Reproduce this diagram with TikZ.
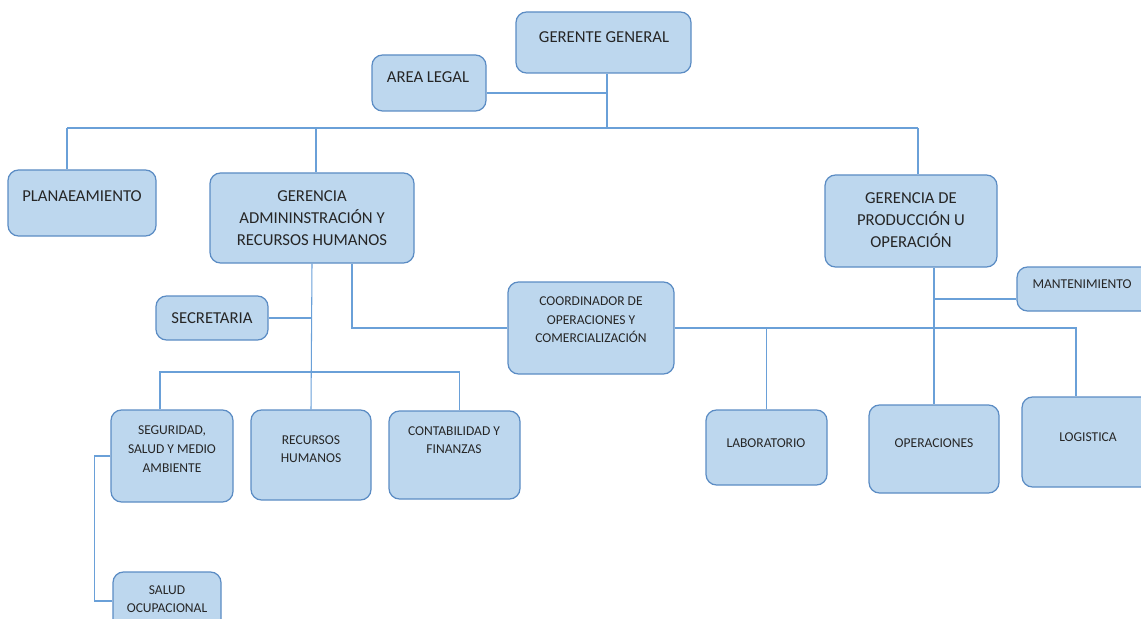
\documentclass[tikz,border=0pt]{standalone}
\usepackage{fontspec}
\setmainfont{Carlito}
\usetikzlibrary{fit}
\definecolor{boxfill}{HTML}{BDD7EE}
\definecolor{boxline}{HTML}{5B8CC4}
\definecolor{linkblue}{HTML}{6AA0D8}
\definecolor{txtgray}{HTML}{262626}
\tikzset{
    box/.style={draw=boxline, fill=boxfill, line width=0.7pt, rounded corners=6pt, inner sep=0pt},
    link/.style={draw=linkblue, line width=0.6pt},
    bigtxt/.style={text=txtgray, align=center, font=\fontsize{9.5}{12.7}\selectfont},
    smalltxt/.style={text=txtgray, align=center, font=\fontsize{7.7}{10.6}\selectfont}
}
\begin{document}
\begin{tikzpicture}[x=0.02cm, y=-0.02cm]
    \useasboundingbox (0,0) rectangle (1141,618);
    \clip (0,0) rectangle (1141,618);

    \node[box, fit={(516,12) (691,73)}] (gg) {};
    \node[bigtxt] (ggt) at (604,37) {GERENTE GENERAL};
    \node[box, fit={(372,55) (486,111)}] (al) {};
    \node[bigtxt] (alt) at (428,77) {AREA LEGAL};

    \node[box, fit={(8,170) (156,236)}] (plan) {};
    \node[bigtxt] (plant) at (82,196) {PLANAEAMIENTO};
    \node[box, fit={(210,173) (414,263)}] (ga) {};
    \node[bigtxt] (gat) at (312,218) {GERENCIA\\ADMININSTRACIÓN Y\\RECURSOS HUMANOS};
    \node[box, fit={(825,175) (997,267)}] (gp) {};
    \node[bigtxt] (gpt) at (911,220) {GERENCIA DE\\PRODUCCIÓN U\\OPERACIÓN};

    \node[box, fit={(156,296) (268,340)}] (sec) {};
    \node[bigtxt] (sect) at (212,318) {SECRETARIA};
    \node[box, fit={(508,282) (674,374)}] (coord) {};
    \node[smalltxt] (coordt) at (591,320) {COORDINADOR DE\\OPERACIONES Y\\COMERCIALIZACIÓN};
    \node[box, fit={(1017,267) (1160,311)}] (mant) {};
    \node[smalltxt] (mantt) at (1082,284) {MANTENIMIENTO};

    \node[box, fit={(111,410) (233,502)}] (seg) {};
    \node[smalltxt] (segt) at (172,449) {SEGURIDAD,\\SALUD Y MEDIO\\AMBIENTE};
    \node[box, fit={(251,410) (371,500)}] (rh) {};
    \node[smalltxt] (rht) at (311,449) {RECURSOS\\HUMANOS};
    \node[box, fit={(389,411) (520,499)}] (cont) {};
    \node[smalltxt] (contt) at (454,440) {CONTABILIDAD Y\\FINANZAS};
    \node[box, fit={(113,572) (221,630)}] (sal) {};
    \node[smalltxt] (salt) at (167,599) {SALUD\\OCUPACIONAL};

    \node[box, fit={(706,410) (827,485)}] (lab) {};
    \node[smalltxt] (labt) at (766,443) {LABORATORIO};
    \node[box, fit={(869,405) (999,493)}] (oper) {};
    \node[smalltxt] (opert) at (934,443) {OPERACIONES};
    \node[box, fit={(1022,397) (1160,487)}] (logi) {};
    \node[smalltxt] (logit) at (1088,437) {LOGISTICA};

    \coordinate (busL) at (67,128);
    \coordinate (busR) at (918,128);
    \coordinate (bus2) at (0,372);
    \coordinate (lg) at (1076,328);
    \coordinate (ggdown) at ([xshift=0.07cm]gg.south);

    \draw[link] (busL) -- (busR);
    \draw[link] (ggdown) -- (ggdown |- busL);
    \draw[link] ([yshift=-0.2cm]al.east) -- ([yshift=-0.2cm]al.east -| ggdown);
    \draw[link] (busL) -- (busL |- plan.north);
    \draw[link] ([xshift=0.08cm]ga.north |- busL) -- ([xshift=0.08cm]ga.north);
    \draw[link] (busR) -- (busR |- gp.north);

    \draw[link] (ga.south) -- (rh.north);
    \draw[link] (sec.east) -- (sec.east -| ga.south);
    \draw[link] ([xshift=-0.24cm]seg.north) -- ([xshift=-0.24cm]seg.north |- bus2) -| ([xshift=0.1cm]cont.north);
    \draw[link] ([xshift=0.8cm]ga.south) |- (coord.west);
    \draw[link] (seg.west) -- ++(-16,0) |- (sal.west);

    \draw[link] (coord.east) -- (lg) -- (lg |- logi.north);
    \draw[link] (lab.north) -- (lab.north |- coord.east);
    \draw[link] (oper.north |- gp.south) -- (oper.north);
    \draw[link] ([yshift=-0.2cm]mant.west) -- ([yshift=-0.2cm]mant.west -| oper.north);
\end{tikzpicture}
\end{document}
